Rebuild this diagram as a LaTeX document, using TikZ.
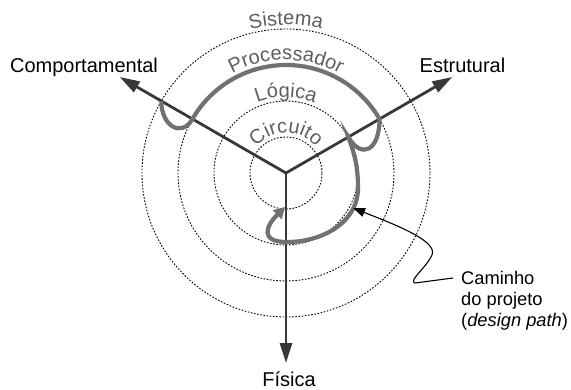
\documentclass[tikz,border=0pt]{standalone}
\usepackage{fontspec}
\setmainfont{Liberation Sans}
\usetikzlibrary{arrows.meta,decorations.text}
\definecolor{axisc}{HTML}{383838}
\definecolor{pathc}{HTML}{717171}
\definecolor{lblc}{HTML}{5E5E5E}
\newcommand\glbl{\fontsize{20}{24}\selectfont\color{lblc}}
\tikzset{
  circ/.style={black, line width=0.9pt, dash pattern=on 1.6pt off 1.6pt},
  axisline/.style={axisc, line width=2.8pt, -{Triangle[length=20pt,width=12pt]}},
  gpath/.style={pathc, line width=4.2pt, -{Triangle[length=11pt,width=12pt]}},
  ann/.style={black, line width=1.1pt, -{Triangle[length=12pt,width=9pt]}},
  lbl/.style={font=\fontsize{20}{24}\selectfont, inner sep=0pt, anchor=base},
  caption/.style={font=\fontsize{18.3}{21}\selectfont, inner sep=0pt, align=left, anchor=north west},
  curvlbl/.style={decorate, decoration={text along path, text align=center}}
}
\begin{document}
\begin{tikzpicture}[x=1pt,y=1pt]
\useasboundingbox (-286,-216) rectangle (285,173);
\coordinate (O) at (0,0);
% dotted level circles
\foreach \r in {36,72,108,144}
  \draw[circ] (O) circle[radius=\r];
% curved level labels
\path[curvlbl, decoration={text={|\glbl|Sistema}}] (160:148) arc[start angle=160, end angle=20, radius=148];
\path[curvlbl, decoration={text={|\glbl|Processador}}] (160:113) arc[start angle=160, end angle=20, radius=113];
\path[curvlbl, decoration={text={|\glbl|Lógica}}] (160:76) arc[start angle=160, end angle=20, radius=76];
\path[curvlbl, decoration={text={|\glbl|Circuito}}] (165:40) arc[start angle=165, end angle=15, radius=40];
% axes
\coordinate (aB) at (150:192);
\coordinate (aS) at (30:192);
\coordinate (aF) at (270:190);
\draw[axisline] (O) -- (aB);
\draw[axisline] (O) -- (aS);
\draw[axisline] (O) -- (aF);
\node[lbl] (lB) at (-202,101) {Comportamental};
\node[lbl] (lS) at (176.5,101) {Estrutural};
\node[lbl] (lF) at (3,-213) {Física};
% design path
\coordinate (gStart) at (150:144);
\coordinate (gEnd) at (-1,-34);
\draw[gpath] (gStart) .. controls +(-90:25) and +(240:22) .. (150:108)
  arc[start angle=150, end angle=30, radius=108]
  .. controls +(-90:32) and +(300:26) .. (30:72)
  to[out=-70, in=90] (72,-15)
  to[out=-90, in=0] (1,-69)
  to[out=180, in=225, looseness=2] (gEnd);
% caption and pointer
\node[caption] (cap) at (175,-98) {Caminho\\do projeto\\(\textit{design path})};
\coordinate (annS) at (167,-105);
\coordinate (annT) at (67,-35);
\draw[ann] (annS) -- (129,-110) .. controls (122,-108) and (140,-95) .. (146,-82)
  .. controls (152,-68) and (110,-52) .. (annT);
\end{tikzpicture}
\end{document}
